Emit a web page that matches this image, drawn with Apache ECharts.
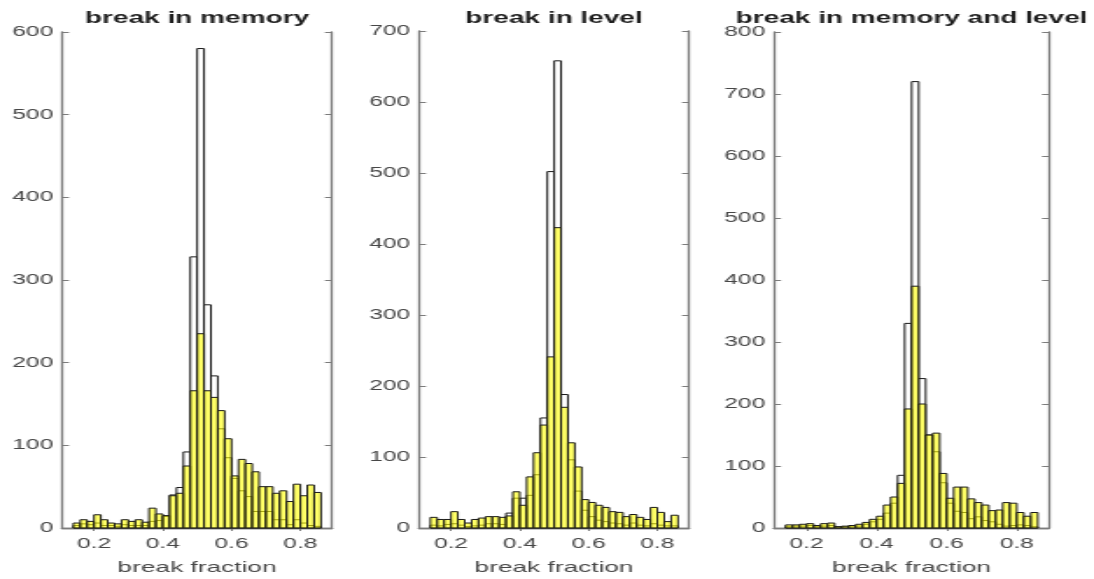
<!DOCTYPE html>
<html>
<head>
<meta charset="utf-8">
<script src="https://cdn.jsdelivr.net/npm/echarts@6/dist/echarts.min.js"></script>
<style>
  html, body { margin: 0; padding: 0; background: #fff; overflow: hidden; }
  /* the picture is stretched sideways, so draw narrow and widen it */
  #chart-ctn { width: 625px; height: 579px; transform: scaleX(1.7504); transform-origin: 0 0; }
</style>
</head>
<body>
<div id="chart-ctn"></div>
<script>
var binEdges = [0.14, 0.16, 0.18, 0.20, 0.22, 0.24, 0.26, 0.28, 0.30, 0.32, 0.34, 0.36,
  0.38, 0.40, 0.42, 0.44, 0.46, 0.48, 0.50, 0.52, 0.54, 0.56, 0.58, 0.60, 0.62, 0.64,
  0.66, 0.68, 0.70, 0.72, 0.74, 0.76, 0.78, 0.80, 0.82, 0.84, 0.86];
var xTicks = [0.2, 0.4, 0.6, 0.8];
var titles = ['break in memory', 'break in level', 'break in memory and level'];
var yMax = [600, 700, 800];

// yellow histograms
var memYellow = [6, 10, 8, 16, 10, 6, 5, 10, 8, 10, 7, 24, 17, 15, 39, 42, 75, 166, 235, 166, 158, 142,
  108, 63, 83, 78, 68, 50, 50, 42, 45, 32, 53, 39, 52, 43];
var levYellow = [15, 12, 12, 23, 12, 7, 12, 14, 16, 16, 15, 17, 51, 32, 72, 106, 145, 241, 423, 170, 120, 86,
  40, 36, 32, 29, 23, 22, 16, 19, 15, 12, 29, 22, 9, 18];
var bothYellow = [5, 5, 6, 7, 4, 7, 8, 2, 3, 4, 6, 9, 14, 19, 37, 50, 72, 192, 390, 200, 150, 153,
  88, 48, 66, 66, 47, 41, 37, 28, 29, 41, 40, 25, 19, 25];

// outlined (white) histograms
var memOutline = [3, 5, 4, 6, 3, 3, 2, 4, 3, 3, 3, 8, 9, 14, 40, 49, 92, 328, 580, 270, 184, 120,
  85, 60, 45, 38, 20, 20, 20, 10, 10, 4, 10, 6, 3, 2];
var levOutline = [4, 3, 5, 6, 4, 2, 3, 4, 6, 6, 5, 21, 42, 42, 46, 75, 155, 502, 658, 188, 96, 52,
  25, 16, 11, 9, 7, 6, 4, 7, 4, 3, 6, 4, 3, 3];
var bothOutline = [2, 3, 3, 4, 2, 3, 4, 2, 2, 3, 3, 6, 10, 14, 24, 40, 85, 330, 720, 241, 150, 123,
  73, 40, 27, 25, 15, 18, 12, 10, 6, 3, 4, 5, 4, 2];

var yellowSets = [memYellow, levYellow, bothYellow];
var outlineSets = [memOutline, levOutline, bothOutline];

var stretch = 1094 / 625;
// plot frames as seen in the picture (left, right, top)
var frames = [[62, 332, 32], [419, 689, 31], [774, 1049, 32]];
var frameBottom = 528;

function toRows(counts) {
  var rows = [];
  for (var i = 0; i < counts.length; i++) {
    rows.push([binEdges[i], binEdges[i + 1], counts[i]]);
  }
  return rows;
}

function barRenderer(fill, stroke) {
  return function (params, api) {
    var p0 = api.coord([api.value(0), 0]);
    var p1 = api.coord([api.value(1), api.value(2)]);
    return {
      type: 'rect',
      shape: {x: p0[0], y: p1[1], width: p1[0] - p0[0], height: p0[1] - p1[1]},
      style: {fill: fill, stroke: stroke, lineWidth: 1}
    };
  };
}

var axisGray = '#7c7c7c';
var labelGray = '#474747';
var font = 'Liberation Sans, Arial, sans-serif';

var grids = [], xAxes = [], yAxes = [], series = [], titleList = [];

for (var i = 0; i < 3; i++) {
  var f = frames[i];
  var left = f[0] / stretch;
  var width = (f[1] - f[0]) / stretch;
  grids.push({left: left, width: width, top: f[2], height: frameBottom - f[2], outerBoundsMode: 'none'});

  titleList.push({
    text: titles[i],
    left: left + width / 2,
    top: 11,
    padding: 0,
    textAlign: 'center',
    textStyle: {fontFamily: font, fontSize: 16, fontWeight: 'bold', color: '#1e1e1e'}
  });

  xAxes.push({
    type: 'value', gridIndex: i, position: 'bottom', min: 0.107, max: 0.892,
    axisLine: {lineStyle: {color: axisGray, width: 1.3}},
    axisTick: {inside: true, length: 3, customValues: xTicks, lineStyle: {color: axisGray}},
    axisLabel: {customValues: xTicks, margin: 9, fontFamily: font, fontSize: 14, color: labelGray,
      formatter: function (v) { return v.toFixed(1); }},
    splitLine: {show: false},
    name: 'break fraction', nameLocation: 'middle', nameGap: 32,
    nameTextStyle: {fontFamily: font, fontSize: 15, color: labelGray}
  });
  xAxes.push({
    type: 'value', gridIndex: i, position: 'top', min: 0.107, max: 0.892,
    axisLine: {lineStyle: {color: axisGray, width: 1.3}},
    axisTick: {inside: true, length: 3, customValues: xTicks, lineStyle: {color: axisGray}},
    axisLabel: {show: false},
    splitLine: {show: false}
  });

  yAxes.push({
    type: 'value', gridIndex: i, position: 'left', min: 0, max: yMax[i], interval: 100,
    axisLine: {show: true, lineStyle: {color: axisGray, width: 1.3}},
    axisTick: {show: true, inside: true, length: 4, lineStyle: {color: axisGray}},
    axisLabel: {margin: 5, fontFamily: font, fontSize: 14, color: labelGray},
    splitLine: {show: false}
  });
  yAxes.push({
    type: 'value', gridIndex: i, position: 'right', min: 0, max: yMax[i], interval: 100,
    axisLine: {show: true, lineStyle: {color: axisGray, width: 1.3}},
    axisTick: {show: true, inside: true, length: 4, lineStyle: {color: axisGray}},
    axisLabel: {show: false},
    splitLine: {show: false}
  });

  series.push({
    type: 'custom', xAxisIndex: i * 2, yAxisIndex: i * 2,
    renderItem: barRenderer('#ffffff', '#1a1a1a'),
    data: toRows(outlineSets[i]), silent: true, z: 2
  });
  series.push({
    type: 'custom', xAxisIndex: i * 2, yAxisIndex: i * 2,
    renderItem: barRenderer('rgba(255, 255, 0, 0.6)', '#1a1a1a'),
    data: toRows(yellowSets[i]), silent: true, z: 3
  });
}

var myChart = echarts.init(document.getElementById('chart-ctn'));
myChart.setOption({
  backgroundColor: '#fff',
  animation: false,
  title: titleList,
  grid: grids,
  xAxis: xAxes,
  yAxis: yAxes,
  series: series
});
</script>
</body>
</html>
